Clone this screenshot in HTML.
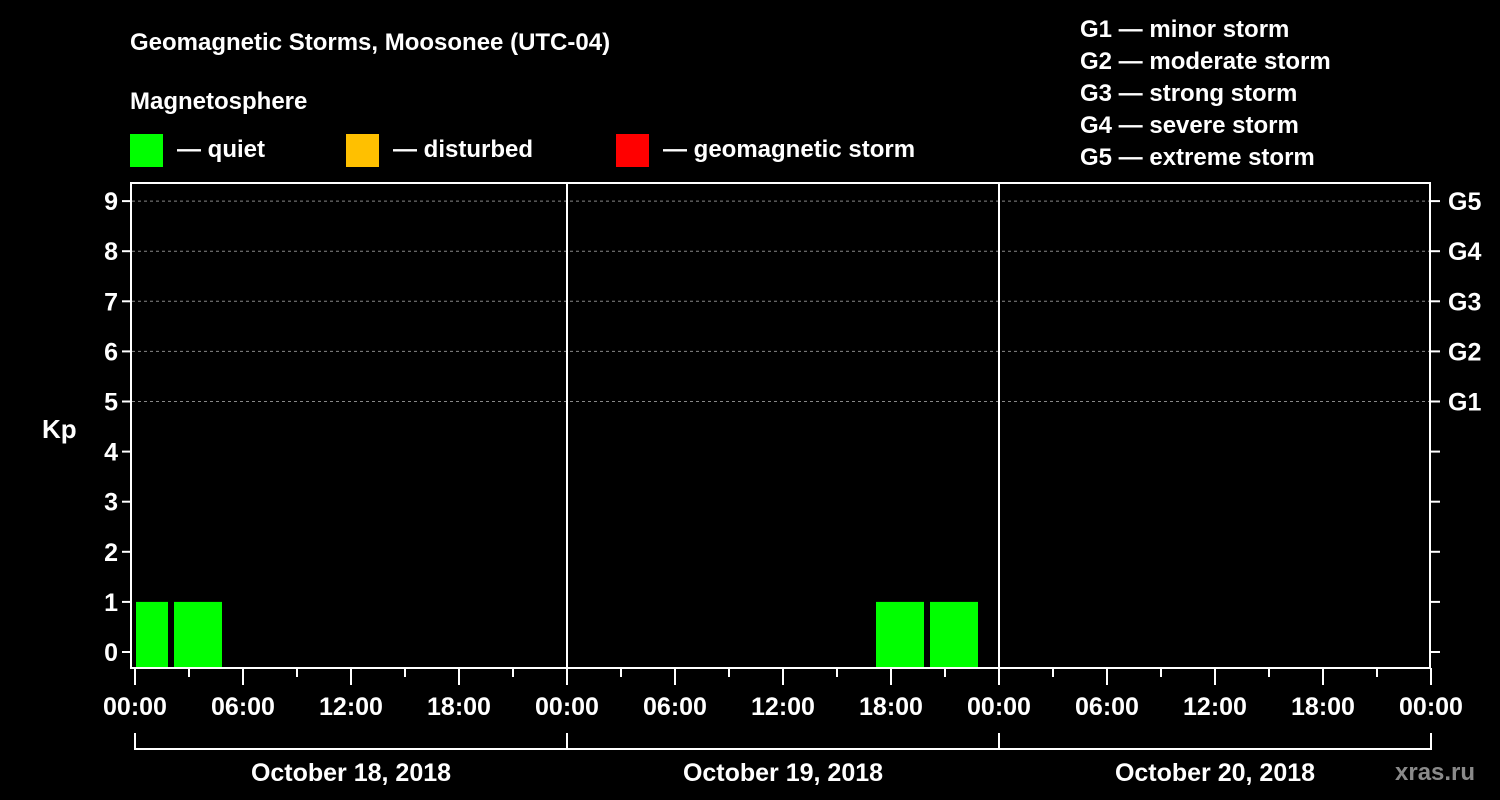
<!DOCTYPE html>
<html><head><meta charset="utf-8"><style>
body{margin:0;background:#000;width:1500px;height:800px;overflow:hidden}
svg{display:block}
text{font-family:"Liberation Sans",Arial,sans-serif;font-weight:bold;fill:#fff}
</style></head><body>
<svg id="c" width="1500" height="800" xmlns="http://www.w3.org/2000/svg">
<text x="130" y="50" font-size="24">Geomagnetic Storms, Moosonee (UTC-04)</text>
<text x="130" y="109" font-size="24">Magnetosphere</text>
<g><rect x="130" y="134" width="33" height="33" fill="#00ff00"/><text x="177" y="157" font-size="24">— quiet</text></g>
<g><rect x="346" y="134" width="33" height="33" fill="#ffc000"/><text x="393" y="157" font-size="24">— disturbed</text></g>
<g><rect x="616" y="134" width="33" height="33" fill="#ff0000"/><text x="663" y="157" font-size="24">— geomagnetic storm</text></g>
<g font-size="24">
<text x="1080" y="37">G1 — minor storm</text>
<text x="1080" y="69">G2 — moderate storm</text>
<text x="1080" y="101">G3 — strong storm</text>
<text x="1080" y="133">G4 — severe storm</text>
<text x="1080" y="165">G5 — extreme storm</text>
</g>
<text x="42" y="438" font-size="26">Kp</text>
<text x="1395" y="780" font-size="24" fill="#888" style="fill:#8a8a8a">xras.ru</text>
<g id="plot"></g>
</svg>
<script>
const days=["October 18, 2018","October 19, 2018","October 20, 2018"];
const barStartHours=[-1,2,41,44];
const barValues=[1,1,1,1];
const yTicks=[0,1,2,3,4,5,6,7,8,9];
const gLabels=["G1","G2","G3","G4","G5"];
const xTickLabels=["00:00","06:00","12:00","18:00"];
const L=132,R=1430,T=183,B=668,x0=135,pxH=18,y0=652,pxK=50.1;
const xs=h=>x0+h*pxH, ys=k=>y0-k*pxK;
const g=document.getElementById('plot'),NS="http://www.w3.org/2000/svg";
function mk(t,a,p){const e=document.createElementNS(NS,t);for(const k in a)e.setAttribute(k,a[k]);(p||g).appendChild(e);return e;}
// grid
[5,6,7,8,9].forEach(k=>{const e=mk('line',{x1:L,x2:R,y1:ys(k),y2:ys(k),stroke:'#888','stroke-dasharray':'3,3','stroke-width':1});

});
// bars
barStartHours.forEach((h,i)=>{const v=barValues[i];let a=Math.max(xs(h)+3,L+4),b=xs(h+3)-3;
const color=v>=5?'#ff0000':(v>=4?'#ffc000':'#00ff00');
const e=mk('rect',{x:a,y:ys(v),width:b-a,height:B-1-ys(v),fill:color});

});
// day separators
for(let d=1;d<days.length;d++){const e=mk('line',{x1:xs(24*d),x2:xs(24*d),y1:T,y2:B,stroke:'#fff','stroke-width':2});

}
// frame
const fr=mk('rect',{x:L-1,y:T,width:R-L+1,height:B-T,fill:'none',stroke:'#fff','stroke-width':2});


// y ticks
yTicks.forEach(k=>{mk('line',{x1:L-10,x2:L,y1:ys(k),y2:ys(k),stroke:'#fff','stroke-width':2});
mk('line',{x1:R,x2:R+10,y1:ys(k),y2:ys(k),stroke:'#fff','stroke-width':2});
const t=mk('text',{x:L-14,y:ys(k)+9,'font-size':25,'text-anchor':'end'});t.textContent=k;

});
gLabels.forEach((s,i)=>{const t=mk('text',{x:1448,y:ys(5+i)+9,'font-size':25});t.textContent=s;

});
// x ticks
for(let h=0;h<=24*days.length;h+=3){const maj=h%6===0;mk('line',{x1:xs(h),x2:xs(h),y1:B,y2:B+(maj?17:9),stroke:'#fff','stroke-width':2});
if(maj){const t=mk('text',{x:xs(h),y:B+47,'font-size':25,'text-anchor':'middle'});t.textContent=xTickLabels[(h/6)%4];

}}
// day brackets
days.forEach((d,i)=>{const a=xs(24*i),b=xs(24*(i+1));
mk('path',{d:`M${a} 733V749H${b}V733`,stroke:'#fff','stroke-width':2,fill:'none'});
const t=mk('text',{x:(a+b)/2,y:781,'font-size':25,'text-anchor':'middle'});t.textContent=d;

});
</script>
</body></html>
